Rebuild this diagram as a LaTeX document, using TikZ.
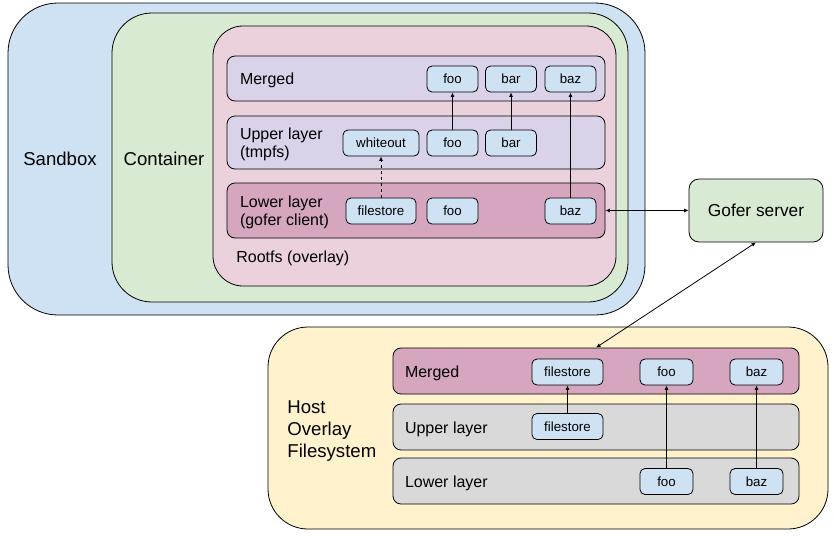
\documentclass[tikz,border=0pt]{standalone}
\usepackage{fontspec}
\setmainfont{Liberation Sans}
\usetikzlibrary{arrows.meta}
\usetikzlibrary{positioning}
\definecolor{sandboxblue}{HTML}{CFE2F3}
\definecolor{containergreen}{HTML}{D9EAD3}
\definecolor{rootfspink}{HTML}{EAD1DC}
\definecolor{layerpurple}{HTML}{D9D2E9}
\definecolor{layerpink}{HTML}{D5A6BD}
\definecolor{itemblue}{HTML}{CFE2F3}
\definecolor{hostyellow}{HTML}{FFF2CC}
\definecolor{layergray}{HTML}{D9D9D9}
\tikzset{
	area/.style={draw, rounded corners=#1, inner sep=0pt},
	layer/.style={draw, rounded corners=8pt, inner sep=0pt, minimum height=46pt},
	item/.style={draw, rounded corners=5pt, fill=itemblue, inner sep=0pt, minimum width=51pt, minimum height=26pt, font=\fontsize{13.3}{15}\selectfont},
	lbl/.style={inner sep=0pt, yshift=-2pt, align=left, font=\fontsize{16}{18}\selectfont},
	biglbl/.style={inner sep=0pt, align=left, font=\fontsize{18.6}{22}\selectfont}
}
\begin{document}
\begin{tikzpicture}
		[x=1pt, y=-1pt, line width=0.8pt, >={Latex[length=4.5pt,width=4pt]}]
		\useasboundingbox (0,0) rectangle (834,536);
		% sandbox side
		\node[area=50pt, fill=sandboxblue, minimum width=637pt, minimum height=312pt] (sandbox) at (326.5,159) {};
		\node[area=40pt, fill=containergreen, minimum width=516pt, minimum height=289pt] (container) at (370,157.5) {};
		\node[area=30pt, fill=rootfspink, minimum width=403pt, minimum height=260pt] (rootfs) at (414.5,156) {};
		\node[biglbl] (sandboxlbl) at (60,158.5) {Sandbox};
		\node[biglbl] (containerlbl) at (164,158.5) {Container};
		\node[lbl, anchor=west] (rootfslbl) at (236,256) {Rootfs (overlay)};
		\node[layer, fill=layerpurple, minimum width=378pt, minimum height=45pt] (merged) at (416,78.5) {};
		\node[layer, fill=layerpurple, minimum width=378pt, minimum height=53pt] (upper) at (416,142.5) {};
		\node[layer, fill=layerpink, minimum width=378pt, minimum height=55pt] (lower) at (416,210.5) {};
		\node[lbl, right=13pt of merged.west] (mergedlbl) {Merged};
		\node[lbl, right=13pt of upper.west] (upperlbl) {Upper layer\\(tmpfs)};
		\node[lbl, right=13pt of lower.west] (lowerlbl) {Lower layer\\(gofer client)};
		\node[item] (mfoo) at (452.5,79) {foo};
		\node[item] (mbar) at (511,79) {bar};
		\node[item] (mbaz) at (570.5,79) {baz};
		\node[item, minimum width=76pt] (whiteout) at (381,143) {whiteout};
		\node[item] (ufoo) at (452.5,143) {foo};
		\node[item] (ubar) at (511,143) {bar};
		\node[item, minimum width=70pt] (lfile) at (381,211) {filestore};
		\node[item] (lfoo) at (452.5,211) {foo};
		\node[item] (lbaz) at (570.5,211) {baz};
		\draw[->] (ufoo) -- (mfoo);
		\draw[->] (ubar) -- (mbar);
		\draw[->] (lbaz) -- (mbaz);
		\draw[->, dashed] (lfile) -- (whiteout);
		% gofer
		\node[area=10pt, fill=containergreen, minimum width=134pt, minimum height=63pt, font=\fontsize{17.3}{20}\selectfont] (gofer) at (756,210.5) {Gofer server};
		% host side
		\node[area=40pt, fill=hostyellow, minimum width=560pt, minimum height=202pt] (host) at (548,428) {};
		\node[biglbl, anchor=west] (hostlbl) at (287,431) {Host\\Overlay\\Filesystem};
		\node[layer, fill=layerpink, minimum width=406pt] (hmerged) at (596,371) {};
		\node[layer, fill=layergray, minimum width=406pt] (hupper) at (596,427) {};
		\node[layer, fill=layergray, minimum width=406pt] (hlower) at (596,481) {};
		\node[lbl, right=12pt of hmerged.west] (hmergedlbl) {Merged};
		\node[lbl, right=12pt of hupper.west] (hupperlbl) {Upper layer};
		\node[lbl, right=12pt of hlower.west] (hlowerlbl) {Lower layer};
		\node[item, minimum width=71pt] (hmfile) at (567.5,372) {filestore};
		\node[item, minimum width=53pt] (hmfoo) at (666.5,372) {foo};
		\node[item, minimum width=53pt] (hmbaz) at (756.5,372) {baz};
		\node[item, minimum width=71pt] (hufile) at (567.5,426.5) {filestore};
		\node[item, minimum width=53pt] (hlfoo) at (666.5,481.5) {foo};
		\node[item, minimum width=53pt] (hlbaz) at (756.5,481.5) {baz};
		\draw[->] (hufile) -- (hmfile);
		\draw[->] (hlfoo) -- (hmfoo);
		\draw[->] (hlbaz) -- (hmbaz);
		% links to the gofer server
		\draw[<->] (lower.east) -- (gofer);
		\draw[<->] (hmerged.north) -- (gofer.south);
	\end{tikzpicture}
\end{document}
